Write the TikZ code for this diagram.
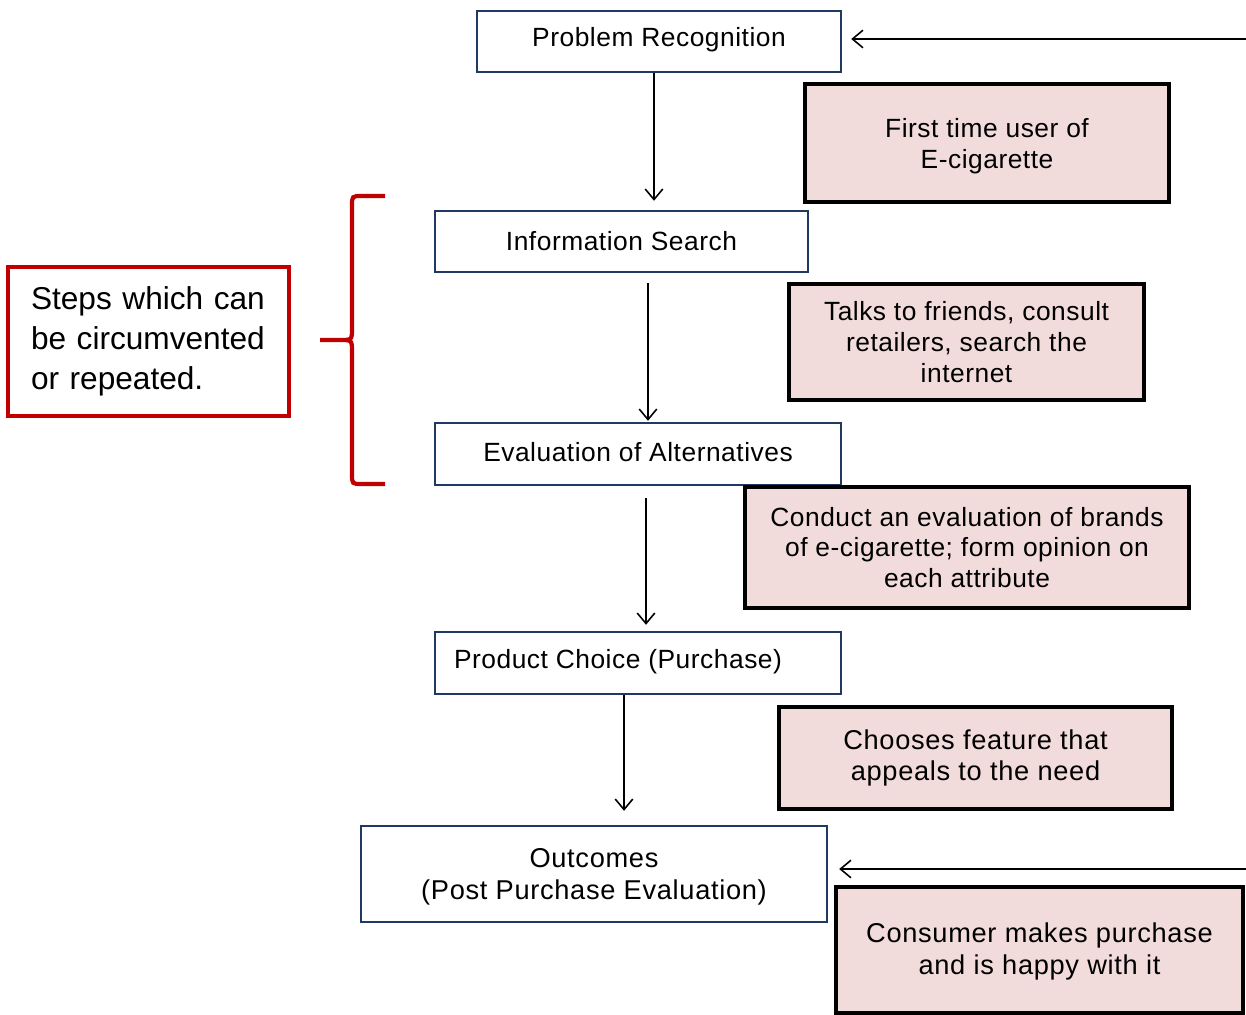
\documentclass[tikz,border=0pt]{standalone}
\usepackage{fontspec}
\setmainfont{Liberation Sans}
\usetikzlibrary{arrows.meta}
\definecolor{navy}{HTML}{1F3864}
\definecolor{pinkfill}{HTML}{F2DCDB}
\definecolor{darkred}{HTML}{C00000}
\newcommand{\boxfont}{\fontsize{15}{17.6}\selectfont\addfontfeature{LetterSpace=2}}
\newcommand{\widefont}{\fontsize{15.5}{18.1}\selectfont\addfontfeature{LetterSpace=2.5}}
% move a line vertically without changing its reported size
\newcommand{\nudge}[2]{\raisebox{#1}[\height][\depth]{#2}}
\begin{document}
\begin{tikzpicture}[x=0.02cm,y=-0.02cm,
  stage/.style={draw=navy,line width=1.4pt,fill=white,inner sep=0pt,align=center,
    font=\boxfont},
  note/.style={draw=black,line width=2.2pt,fill=pinkfill,inner sep=0pt,align=center,
    font=\boxfont},
  remark/.style={draw=darkred,line width=2.8pt,fill=white,inner sep=0pt,align=left,
    font=\fontsize{18}{22.7}\selectfont},
  arr/.style={line width=0.9pt,-{Straight Barb[length=6pt,width=10pt,line width=0.9pt]}}]
\useasboundingbox (0,0) rectangle (1246,1014);

% process stages
\node[stage,minimum width=7.28cm,minimum height=1.22cm] (pr) at (659,41.5)
  {\nudge{1pt}{Problem Recognition}};
\node[stage,minimum width=7.46cm,minimum height=1.22cm] (is) at (621.5,241.5)
  {\nudge{0.5pt}{Information Search}};
\node[stage,minimum width=8.12cm,minimum height=1.24cm] (ea) at (638,454)
  {\nudge{1pt}{Evaluation of Alternatives}};
\node[stage,minimum width=8.12cm,minimum height=1.24cm] (pc) at (638,663)
  {\hspace*{-0.8cm}\nudge{1pt}{Product Choice (Purchase)}};
\node[stage,font=\widefont,minimum width=9.32cm,minimum height=1.92cm] (oc) at (594,874)
  {\nudge{-1.5pt}{Outcomes}\\\nudge{-1.5pt}{(Post Purchase Evaluation)}};

% descriptions beside the stages
\node[note,minimum width=7.28cm,minimum height=2.36cm] (ft) at (987,143)
  {\nudge{-1.7pt}{First time user of}\\\nudge{-1.7pt}{E-cigarette}};
\node[note,minimum width=7.1cm,minimum height=2.32cm] (tk) at (966.5,342)
  {Talks to friends, consult\\retailers, search the\\internet};
\node[note,minimum width=8.88cm,minimum height=2.42cm] (cd) at (967,547.5)
  {Conduct an evaluation of brands\\of e-cigarette; form opinion on\\each attribute};
\node[note,font=\widefont,minimum width=7.86cm,minimum height=2.04cm] (ch) at (975.5,758)
  {Chooses feature that\\appeals to the need};
\node[note,font=\widefont,minimum width=8.14cm,minimum height=2.52cm] (cm) at (1039.5,950)
  {\nudge{-1pt}{Consumer makes purchase}\\\nudge{-1pt}{and is happy with it}};

% side remark and its brace
\node[remark,minimum width=5.62cm,minimum height=2.98cm,text width=4.7cm] (rb) at (148.5,341.5)
  {Steps which can\\be circumvented\\or repeated.};
\draw[darkred,line width=2.4pt]
  (385,196) -- (362,196) .. controls (352,196) .. (352,206) -- (352,328)
  .. controls (352,340) .. (340,340) -- (320,340)
  (340,340) .. controls (352,340) .. (352,352) -- (352,474)
  .. controls (352,484) .. (362,484) -- (385,484);

% flow between stages
\draw[arr] ([xshift=-0.1cm]pr.south) -- ([xshift=0.65cm,yshift=0.18cm]is.north);
\draw[arr] ([xshift=0.53cm,yshift=-0.2cm]is.south) -- ([xshift=0.2cm,yshift=0.02cm]ea.north);
\draw[arr] ([xshift=0.16cm,yshift=-0.24cm]ea.south) -- ([xshift=0.16cm,yshift=0.12cm]pc.north);
\draw[arr] ([xshift=-0.28cm]pc.south) -- ([xshift=0.6cm,yshift=0.28cm]oc.north);

% feedback from the right
\coordinate (fbtop) at (1246,39);
\coordinate (fbbot) at (1246,869);
\draw[arr] (fbtop) -- ([xshift=0.18cm]fbtop -| pr.east);
\draw[arr] (fbbot) -- ([xshift=0.22cm]fbbot -| oc.east);
\end{tikzpicture}
\end{document}
